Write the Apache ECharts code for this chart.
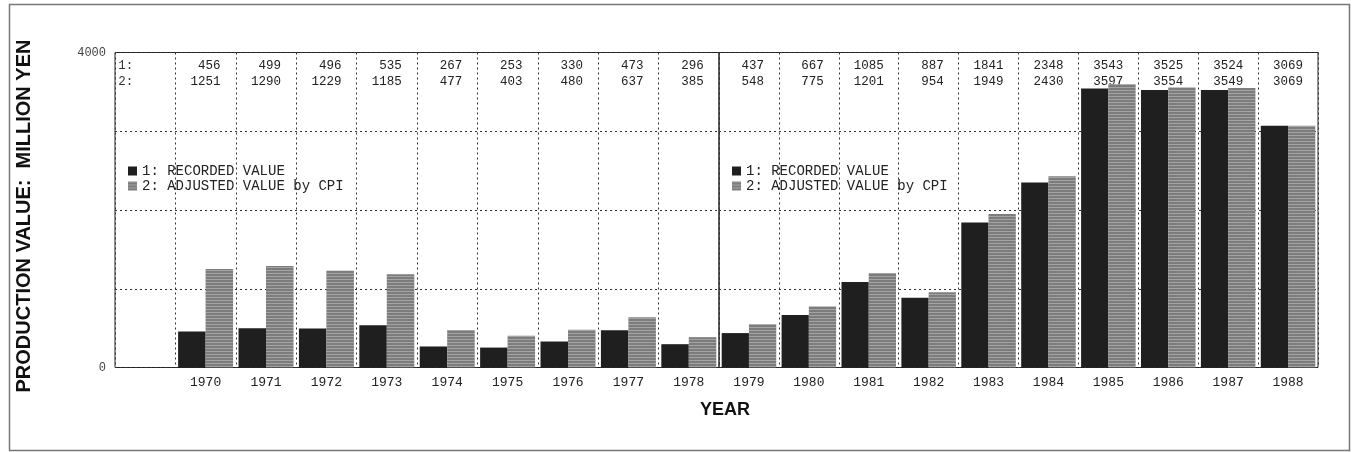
<!DOCTYPE html>
<html>
<head>
<meta charset="utf-8">
<script src="https://cdn.jsdelivr.net/npm/echarts@6/dist/echarts.min.js"></script>
<style>
html,body{margin:0;padding:0;background:#fff;}
#chart{width:1353px;height:452px;}
</style>
</head>
<body>
<div id="chart"></div>
<script>
// ---- data ----
const years = ['1970','1971','1972','1973','1974','1975','1976','1977','1978',
               '1979','1980','1981','1982','1983','1984','1985','1986','1987','1988'];
const recorded = [456,499,496,535,267,253,330,473,296,437,667,1085,887,1841,2348,3543,3525,3524,3069];
const adjusted = [1251,1290,1229,1185,477,403,480,637,385,548,775,1201,954,1949,2430,3597,3554,3549,3069];
const rowLabels = ['1:', '2:'];
const seriesNames = ['1: RECORDED VALUE', '2: ADJUSTED VALUE by CPI'];
const yTickLabels = [0, 4000];
const splitAt = 9; // first 9 years in left panel

// ---- build ----
const MONO = 'Liberation Mono';
const leftCats = [''].concat(years.slice(0, splitAt));
const rightCats = years.slice(splitAt);
const leftRec = [null].concat(recorded.slice(0, splitAt));
const leftAdj = [null].concat(adjusted.slice(0, splitAt));
const rightRec = recorded.slice(splitAt);
const rightAdj = adjusted.slice(splitAt);

function tableAxis(gridIndex, cats, values, rowIdx, hasHeader, margin) {
  return {
    type: 'category', gridIndex: gridIndex, data: cats, position: 'top',
    boundaryGap: true,
    axisLine: {show: false}, axisTick: {show: false}, splitLine: {show: false},
    axisLabel: {
      inside: true, interval: 0, margin: margin,
      formatter: function (v, i) {
        if (hasHeader && i === 0) return '{h|' + rowLabels[rowIdx] + '}';
        const k = hasHeader ? i - 1 : i;
        return '{v|' + values[k] + '}';
      },
      rich: {
        v: {width: 30, align: 'right', fontFamily: MONO, fontSize: 12.5, color: '#222'},
        h: {width: 54, align: 'left', fontFamily: MONO, fontSize: 12.5, color: '#333'}
      }
    }
  };
}

function mainXAxis(gridIndex, cats) {
  return {
    type: 'category', gridIndex: gridIndex, data: cats, position: 'bottom',
    boundaryGap: true,
    axisLine: {show: false}, axisTick: {show: false},
    axisLabel: {interval: 0, margin: 9, fontFamily: MONO, fontSize: 13, color: '#222'},
    splitLine: {show: true, interval: 0, lineStyle: {type: [2, 3], color: '#333', width: 1}}
  };
}

const stripe = {
  symbol: 'rect', symbolSize: 1,
  dashArrayX: [[10, 0]], dashArrayY: [1, 2],
  color: 'rgba(225,225,225,0.4)'
};

function barSeries(name, xIdx, yIdx, data, isAdj) {
  return {
    name: name, type: 'bar', xAxisIndex: xIdx, yAxisIndex: yIdx, data: data,
    barGap: '0%', barCategoryGap: '9%',
    itemStyle: isAdj ? {color: '#7c7c7c', decal: stripe} : {color: '#1f1f1f'}
  };
}

function legendAt(left) {
  return {
    left: left, top: 159, orient: 'vertical', icon: 'rect',
    itemWidth: 9, itemHeight: 9, itemGap: 1, selectedMode: false,
    textStyle: {fontFamily: MONO, fontSize: 14, color: '#222'},
    data: seriesNames
  };
}

const chart = echarts.init(document.getElementById('chart'), null, {renderer: 'canvas'});
chart.setOption({
  animation: false,
  backgroundColor: '#fff',
  grid: [
    {left: 115, top: 52.5, width: 604, height: 315, show: true, borderColor: '#222', borderWidth: 1},
    {left: 719, top: 52.5, width: 599, height: 315, show: true, borderColor: '#222', borderWidth: 1}
  ],
  xAxis: [
    mainXAxis(0, leftCats),
    tableAxis(0, leftCats, recorded.slice(0, splitAt), 0, true, 7),
    tableAxis(0, leftCats, adjusted.slice(0, splitAt), 1, true, 23),
    mainXAxis(1, rightCats),
    tableAxis(1, rightCats, rightRec, 0, false, 7),
    tableAxis(1, rightCats, rightAdj, 1, false, 23)
  ],
  yAxis: [
    {
      type: 'value', gridIndex: 0, min: 0, max: 4000, interval: 1000,
      axisLine: {show: false}, axisTick: {show: false},
      axisLabel: {
        margin: 9, fontFamily: MONO, fontSize: 12, color: '#444',
        formatter: function (v) { return yTickLabels.indexOf(v) >= 0 ? String(v) : ''; }
      },
      splitLine: {show: true, lineStyle: {type: [2, 3], color: '#333', width: 1}},
      name: 'PRODUCTION VALUE:  MILLION YEN', nameLocation: 'middle', nameRotate: 90, nameGap: 81,
      nameTextStyle: {fontFamily: 'Liberation Sans', fontWeight: 'bold', fontSize: 20, color: '#111',
                      padding: [0, 12, 0, 0]}
    },
    {
      type: 'value', gridIndex: 1, min: 0, max: 4000, interval: 1000,
      axisLine: {show: false}, axisTick: {show: false}, axisLabel: {show: false},
      splitLine: {show: true, lineStyle: {type: [2, 3], color: '#333', width: 1}}
    }
  ],
  legend: [legendAt(123), legendAt(727)],
  series: [
    barSeries(seriesNames[0], 0, 0, leftRec, false),
    barSeries(seriesNames[1], 0, 0, leftAdj, true),
    barSeries(seriesNames[0], 3, 1, rightRec, false),
    barSeries(seriesNames[1], 3, 1, rightAdj, true)
  ],
  graphic: [
    {type: 'rect', shape: {x: 9.5, y: 4.5, width: 1340, height: 446},
     style: {fill: 'none', stroke: '#777', lineWidth: 1.5}, silent: true, z: -1},
    {type: 'text', x: 725, y: 410,
     style: {text: 'YEAR', fontFamily: 'Liberation Sans', fontWeight: 'bold', fontSize: 18,
             fill: '#111', textAlign: 'center', textVerticalAlign: 'middle'}}
  ]
});
</script>
</body>
</html>
